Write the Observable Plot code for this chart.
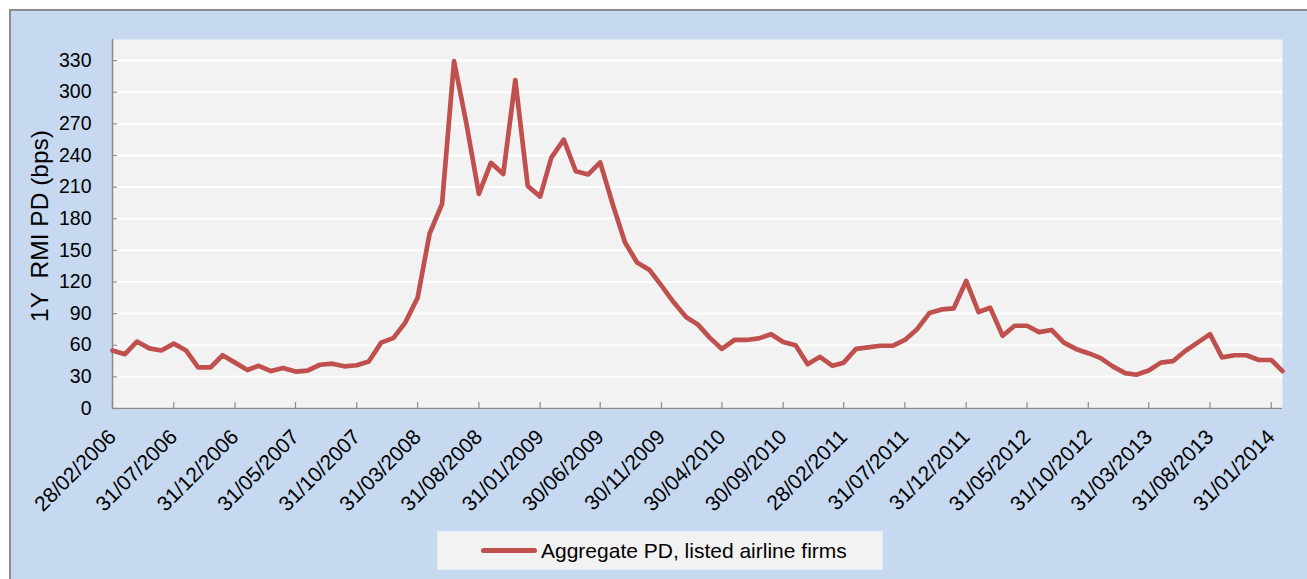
<!DOCTYPE html>
<html>
<head>
<meta charset="utf-8">
<script src="https://cdn.jsdelivr.net/npm/d3@7"></script>
<script src="https://cdn.jsdelivr.net/npm/@observablehq/plot@0.6"></script>
<style>
  html { margin: 0; padding: 0; background: #fff; overflow: hidden; }
  body { margin: 0; padding: 0; width: 1307px; height: 579px; position: relative; overflow: hidden; font-family: "Liberation Sans", Arial, sans-serif; }
  #bg { position: absolute; left: 9px; top: 9px; width: 1320px; height: 600px; background: #c6d9f0; border: 2px solid #8c8c8c; z-index: 0; }
  #chart { position: relative; z-index: 1; }
  #chart svg { display: block; }
  #legend { position: relative; z-index: 1; margin-left: 437px; margin-top: 11px; width: 446px; height: 39px; background: #f2f2f2; display: flex; align-items: center; font-size: 21px; color: #000; box-sizing: border-box; border: 1px solid #e3ebf6; }
  #legend .sw { display: inline-block; width: 56px; height: 5px; background: #c0504d; border-radius: 3px; margin-left: 43px; margin-right: 4px; }
</style>
</head>
<body>
<div id="bg"></div>
<div id="chart"></div>
<div id="legend"><span class="sw"></span><span id="legendText"></span></div>
<script>
// ---- data ----
const seriesName = "Aggregate PD, listed airline firms";
const yTitle = "1Y\u00a0 RMI PD (bps)";
const firstMonth = "2006-02";   // month-end observations, Feb 2006 .. Feb 2014
const tickLabels = ["28/02/2006","31/07/2006","31/12/2006","31/05/2007","31/10/2007","31/03/2008",
  "31/08/2008","31/01/2009","30/06/2009","30/11/2009","30/04/2010","30/09/2010","28/02/2011",
  "31/07/2011","31/12/2011","31/05/2012","31/10/2012","31/03/2013","31/08/2013","31/01/2014"];
const yTicks = [0,30,60,90,120,150,180,210,240,270,300,330];
const pd = [
  55, 51.5, 63.5, 57, 55, 61.5, 55, 39, 39, 50.5, 43.5,          // 2006
  36.5, 40.5, 35.5, 38.5, 35, 36, 41.5, 42.5, 40, 41, 44.5, 62.5, // 2007
  67, 81.5, 105, 166, 194, 329.5, 270, 203.5, 233, 222.5, 311.5, 211, // 2008
  201, 238, 255, 225, 222, 233.5, 194, 157.5, 138.5, 131.5, 116.5, 100.5, // 2009
  86.5, 80, 67, 56.5, 65, 65, 66.5, 70.5, 63, 60, 42, 49,        // 2010
  40.5, 43.5, 56.5, 58, 59.5, 59.5, 65, 75.5, 90.5, 94, 95, 121, // 2011
  91.5, 95.5, 69, 78.5, 78.5, 72.5, 74.5, 62.5, 56.5, 52.5, 48, 40, // 2012
  33.5, 32, 36, 43.5, 45, 54.5, 62.5, 70.5, 48.5, 50.5, 50.5, 46, // 2013
  46, 35.5                                                         // 2014
];

// ---- build ----
const parse = d3.utcParse("%d/%m/%Y");
const fmt = d3.utcFormat("%d/%m/%Y");
const m0 = d3.utcParse("%Y-%m")(firstMonth);
const dates = pd.map((_, i) => d3.utcDay.offset(d3.utcMonth.offset(m0, i + 1), -1));
const data = pd.map((v, i) => ({date: dates[i], value: v}));
const tickDates = tickLabels.map(parse);
const axisColor = "#8a8a8a";

const chart = Plot.plot({
  width: 1307,
  height: 520,
  marginLeft: 112,
  marginRight: 25,
  marginTop: 39,
  marginBottom: 112,
  style: {background: "transparent", fontFamily: "'Liberation Sans', Arial, sans-serif", fontSize: "19px", color: "#000", overflow: "visible"},
  x: {type: "utc", domain: [dates[0], dates[dates.length - 1]]},
  y: {domain: [0, 350]},
  marks: [
    Plot.frame({fill: "#f2f2f2", stroke: "none"}),
    Plot.gridY(yTicks, {stroke: "#ffffff", strokeOpacity: 1, strokeWidth: 2}),
    Plot.ruleX([dates[0]], {stroke: axisColor, strokeWidth: 1.5}),
    Plot.ruleY([0], {stroke: axisColor, strokeWidth: 1.5}),
    Plot.axisY(yTicks, {tickSize: 5, dx: 5, fill: "none", stroke: axisColor, strokeWidth: 1.2, label: null}),
    Plot.axisY(yTicks, {tickSize: 0, tickPadding: 21, fill: "#000", fontSize: 19.5, label: null}),
    Plot.axisX(tickDates, {tickSize: 6, dy: -6, fill: "none", stroke: axisColor, strokeWidth: 1.2, label: null}),
    Plot.axisX(tickDates, {tickSize: 0, tickFormat: fmt, tickRotate: -45, tickPadding: 25, fontSize: 21, fill: "#000", label: null}),
    Plot.line(data, {x: "date", y: "value", stroke: "#c0504d", strokeWidth: 4.7, strokeLinejoin: "round", strokeLinecap: "round"}),
    Plot.text([yTitle], {frameAnchor: "left", textAnchor: "middle", dx: -72, dy: 2, rotate: -90, fontSize: 24.5, fill: "#000"})
  ]
});
document.getElementById("chart").appendChild(chart);
document.getElementById("legendText").textContent = seriesName;
</script>
</body>
</html>
